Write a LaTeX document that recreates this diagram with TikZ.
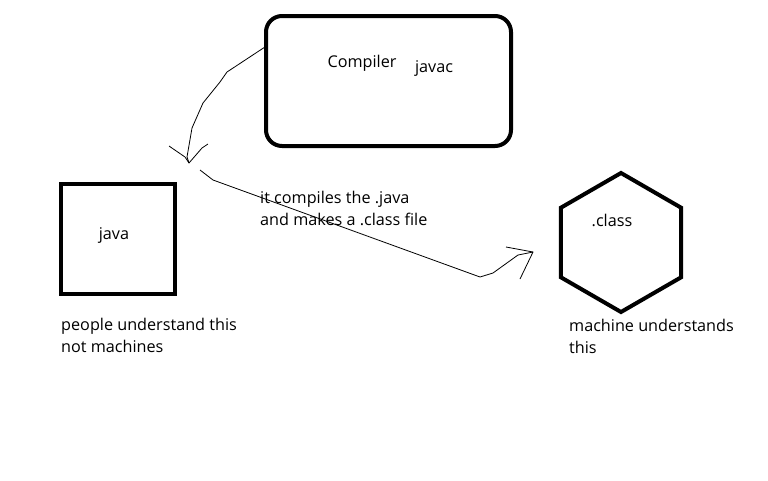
\documentclass[tikz,border=0pt]{standalone}
\usepackage{fontspec}
\setmainfont{Open Sans}
\usetikzlibrary{shapes.geometric}

\tikzset{
  thickbox/.style={draw, line width=4pt, inner sep=0pt},
  label/.style={font=\fontsize{16.2}{22}\selectfont, inner sep=0pt},
  note/.style={label, align=left, anchor=north west},
  pen/.style={line width=0.8pt, line join=round}
}

\begin{document}
\begin{tikzpicture}[x=1pt, y=-1pt]
    \useasboundingbox (0,0) rectangle (768,480);

    \node[thickbox, rounded corners=16pt, minimum width=245, minimum height=130] (compiler) at (388.5,81) {};
    \node[thickbox, minimum width=114, minimum height=110] (java) at (118,239) {};
    \node[thickbox, regular polygon, regular polygon sides=6, shape border rotate=30, minimum size=139] (class) at (621,242.5) {};

    \node[label] (compilertext) at (362,63) {Compiler};
    \node[label] (javac) at (434,68) {javac};
    \node[label] (javatext) at (114,235) {java};
    \node[label] (classtext) at (612,220) {.class};

    \node[note] (step) at (260,191) {it compiles the .java\\and makes a .class file};
    \node[note] (human) at (61,318) {people understand this\\not machines};
    \node[note] (machine) at (569,319) {machine understands\\this};

    % hand drawn arrow from the compiler
    \coordinate (T) at (189,163);
    \draw[pen] (compiler.165) -- (227,72) -- (220,82) -- (203,103) -- (192,128) -- (187,157) -- (T);
    \draw[pen] (169,146) -- (185,157) -- (T) -- (202,148) -- (208,144);

    % hand drawn arrow to the .class file
    \coordinate (S) at (200,170);
    \coordinate (U) at (533,252);
    \draw[pen] (S) -- (213,180) -- (480,277) -- (493,273) -- (518,255) -- (U);
    \draw[pen] (506,247) -- (U) -- (520,279);

  \end{tikzpicture}
\end{document}
